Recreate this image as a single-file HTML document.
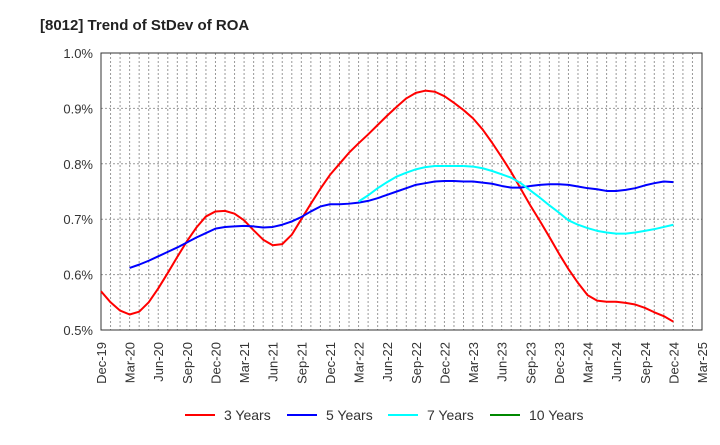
<!DOCTYPE html>
<html><head><meta charset="utf-8"><style>
body{margin:0;background:#fff;font-family:"Liberation Sans",Arial,sans-serif}
svg text{font-family:"Liberation Sans",Arial,sans-serif}
</style></head><body>
<svg id="chart" width="720" height="440" xmlns="http://www.w3.org/2000/svg">
<text x="40" y="30" font-size="15" font-weight="bold" fill="#222">[8012]  Trend of StDev of ROA</text>
<g id="grid"></g><g id="axes"></g><g id="series"></g>
<g font-size="14" fill="#333">
<line x1="185" y1="415" x2="215" y2="415" stroke="#f00" stroke-width="2"/><text x="224" y="420">3 Years</text>
<line x1="287" y1="415" x2="317" y2="415" stroke="#00f" stroke-width="2"/><text x="326" y="420">5 Years</text>
<line x1="388" y1="415" x2="418" y2="415" stroke="#0ff" stroke-width="2"/><text x="427" y="420">7 Years</text>
<line x1="490" y1="415" x2="520" y2="415" stroke="#080" stroke-width="2"/><text x="529" y="420">10 Years</text>
</g>
</svg>
<script>
const xLabels=["Dec-19","Mar-20","Jun-20","Sep-20","Dec-20","Mar-21","Jun-21","Sep-21","Dec-21","Mar-22","Jun-22","Sep-22","Dec-22","Mar-23","Jun-23","Sep-23","Dec-23","Mar-24","Jun-24","Sep-24","Dec-24","Mar-25"];
const yTicks=[0.5,0.6,0.7,0.8,0.9,1.0];
const y3=[0.57,0.55,0.535,0.528,0.533,0.55,0.575,0.603,0.632,0.66,0.685,0.705,0.714,0.715,0.71,0.698,0.68,0.663,0.653,0.655,0.672,0.70,0.728,0.755,0.78,0.80,0.82,0.837,0.853,0.87,0.887,0.903,0.918,0.928,0.932,0.93,0.922,0.91,0.897,0.882,0.862,0.838,0.812,0.785,0.755,0.725,0.697,0.668,0.638,0.61,0.585,0.563,0.553,0.551,0.551,0.549,0.546,0.54,0.532,0.525,0.515];
const y5Start=3;
const y5=[0.612,0.618,0.625,0.633,0.641,0.649,0.658,0.667,0.675,0.683,0.686,0.687,0.688,0.687,0.685,0.686,0.69,0.696,0.704,0.714,0.723,0.727,0.727,0.728,0.73,0.733,0.738,0.744,0.75,0.756,0.762,0.765,0.768,0.769,0.769,0.768,0.768,0.766,0.764,0.76,0.757,0.757,0.76,0.762,0.763,0.763,0.762,0.759,0.756,0.754,0.751,0.751,0.753,0.756,0.761,0.765,0.768,0.767];
const y7Start=27;
const y7=[0.732,0.743,0.756,0.767,0.777,0.784,0.79,0.794,0.796,0.796,0.796,0.796,0.795,0.792,0.787,0.781,0.775,0.765,0.752,0.739,0.725,0.712,0.698,0.69,0.684,0.679,0.676,0.674,0.674,0.676,0.679,0.682,0.686,0.69];
const y10Start=0;
const y10=[];
const L=101,R=702,T=53,B=330,NM=63,YMIN=0.5,YMAX=1.0;
function xs(m){return L+(R-L)*m/NM}
function ys(v){return B-(v-YMIN)/(YMAX-YMIN)*(B-T)}
const NS="http://www.w3.org/2000/svg";
function mk(tag,attrs,parent){const e=document.createElementNS(NS,tag);for(const k in attrs)e.setAttribute(k,attrs[k]);parent.appendChild(e);return e}
const grid=document.getElementById('grid'),axes=document.getElementById('axes'),ser=document.getElementById('series');
for(let m=1;m<NM;m++){const l=mk('line',{x1:xs(m),x2:xs(m),y1:T,y2:B,stroke:'#999','stroke-dasharray':'2,2','stroke-width':1},grid);

}
yTicks.forEach(v=>{const l=mk('line',{x1:L,x2:R,y1:ys(v),y2:ys(v),stroke:'#999','stroke-dasharray':'2,2','stroke-width':1},grid);


const t=mk('text',{x:L-8,y:ys(v)+5,'text-anchor':'end','font-size':13,fill:'#333'},axes);t.textContent=v.toFixed(1)+'%';

});
const fr=mk('rect',{x:L,y:T,width:R-L,height:B-T,fill:'none',stroke:'#333','stroke-width':1},axes);


xLabels.forEach((s,i)=>{const x=xs(i*3);const t=mk('text',{x:x+5,y:B+12,'text-anchor':'end','font-size':13,fill:'#333',transform:`rotate(-90 ${x+5} ${B+12})`},axes);t.textContent=s;

});
function line(arr,start,color,name){if(!arr.length)return;const p=mk('polyline',{points:arr.map((v,i)=>xs(start+i)+','+ys(v)).join(' '),fill:'none',stroke:color,'stroke-width':2,'stroke-linejoin':'round'},ser);

}
line(y3,0,'#f00','series-3-years');
line(y5,y5Start,'#00f','series-5-years');
line(y7,y7Start,'#0ff','series-7-years');
line(y10,y10Start,'#080','series-10-years');
</script>
</body></html>
